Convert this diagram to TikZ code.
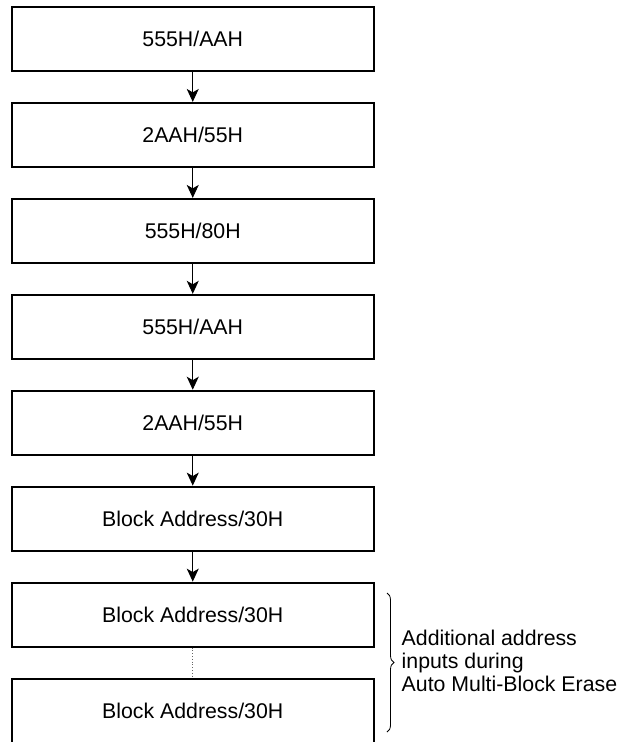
\documentclass[tikz,border=0pt]{standalone}
\usepackage{fontspec}
\setmainfont{Liberation Sans}
\usetikzlibrary{arrows.meta,decorations.pathreplacing}
\begin{document}
\begin{tikzpicture}[x=1pt,y=-1pt,
  stepbox/.style={draw, line width=2pt, minimum width=362.5pt, minimum height=64pt, inner sep=0pt,
    font=\fontsize{21.3}{23}\selectfont},
  flow/.style={line width=1pt, -{Stealth[length=13pt,width=12pt,inset=3.5pt]}},
  dotline/.style={line width=0.8pt, dotted, black!60}
]
\useasboundingbox (0,0) rectangle (637,742);
\begin{scope}
\clip (0,0) rectangle (637,742);
\node[stepbox] (b1) at (192.75,39.0) {555H/AAH};
\node[stepbox] (b2) at (192.75,134.9) {2AAH/55H};
\node[stepbox] (b3) at (192.75,230.9) {555H/80H};
\node[stepbox] (b4) at (192.75,326.8) {555H/AAH};
\node[stepbox] (b5) at (192.75,422.7) {2AAH/55H};
\node[stepbox] (b6) at (192.75,518.6) {Block Address/30H};
\node[stepbox] (b7) at (192.75,614.6) {Block Address/30H};
\node[stepbox] (b8) at (192.75,710.8) {Block Address/30H};
\end{scope}
\draw[flow] (b1) -- (b2);
\draw[flow] (b2) -- (b3);
\draw[flow] (b3) -- (b4);
\draw[flow] (b4) -- (b5);
\draw[flow] (b5) -- (b6);
\draw[flow] (b6) -- (b7);
\draw[dotline] (b7) -- (b8);
\coordinate (brtop) at (387,593);
\coordinate (brbot) at (387,732);
\draw[line width=0.8pt, decorate, decoration={brace, amplitude=7pt}] (brtop) -- (brbot);
\node[anchor=west, align=left, inner sep=0pt, font=\fontsize{21.3}{23}\selectfont] (note) at (401.5,660.5)
  {Additional address\\inputs during\\Auto Multi-Block Erase};
\end{tikzpicture}
\end{document}
